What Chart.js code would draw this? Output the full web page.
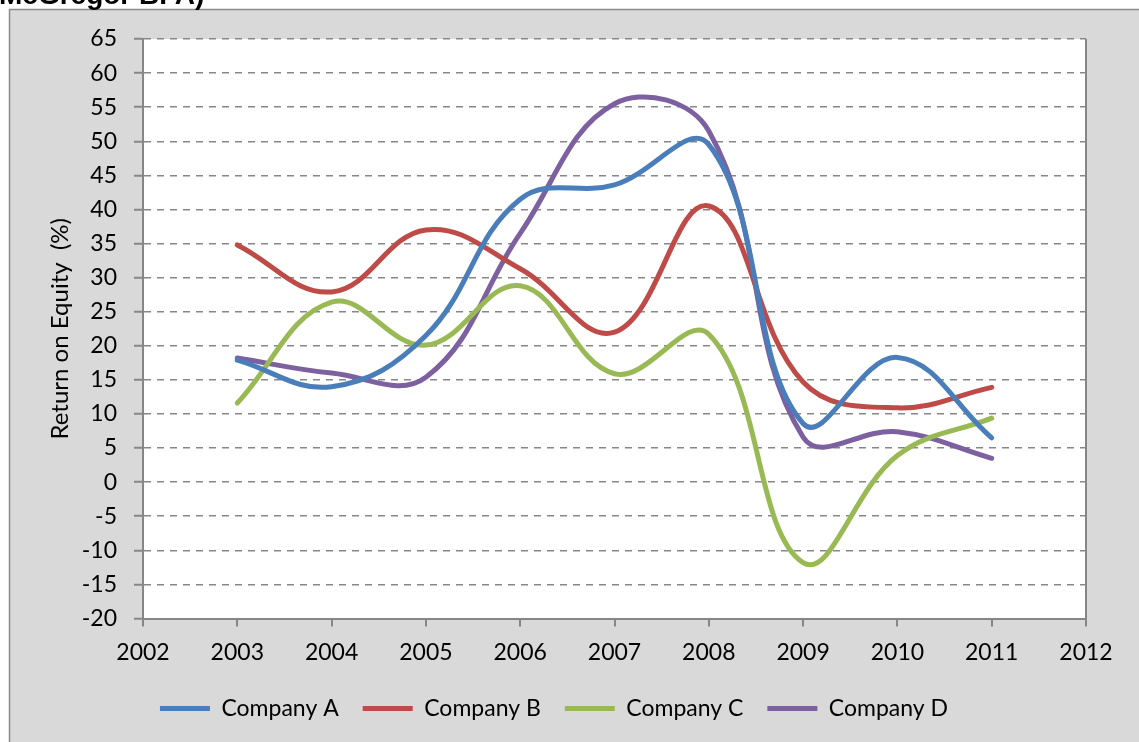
<!DOCTYPE html>
<html>
<head>
<meta charset="utf-8">
<script src="https://cdn.jsdelivr.net/npm/chart.js@4.4.1/dist/chart.umd.min.js"></script>
<style>
  html, body { margin: 0; padding: 0; background: #ffffff; }
  #c { display: block; }
</style>
</head>
<body>
<canvas id="c" width="1139" height="742"></canvas>
<script>
const years = [2003, 2004, 2005, 2006, 2007, 2008, 2009, 2010, 2011];
const companyA = [17.9, 14.0, 21.5, 41.5, 43.6, 49.5, 8.6, 18.3, 6.5];
const companyB = [34.8, 27.9, 37.0, 31.3, 22.0, 40.5, 14.7, 10.9, 13.9];
const companyC = [11.6, 26.4, 20.1, 28.8, 15.9, 21.7, -11.8, 3.9, 9.4];
const companyD = [18.2, 16.0, 15.4, 36.5, 55.5, 51.5, 6.6, 7.4, 3.5];
const seriesNames = ['Company A', 'Company B', 'Company C', 'Company D'];
const seriesColors = ['#4a7ebb', '#be4b48', '#98b954', '#7d60a0'];
const yTitle = 'Return on Equity  (%)';
const headerText = 'McGregor BFA)';

const toPoints = arr => arr.map((v, i) => ({ x: years[i], y: v }));
const allSeries = [companyA, companyB, companyC, companyD];

const frame = {
  id: 'frame',
  afterLayout(chart) {
    if (chart.legend) { chart.legend.left += 6; chart.legend.right += 6; }
  },
  beforeDraw(chart) {
    const ctx = chart.ctx, a = chart.chartArea;
    ctx.save();
    ctx.fillStyle = '#ffffff';
    ctx.fillRect(0, 0, chart.width, chart.height);
    ctx.fillStyle = '#d9d9d9';
    ctx.fillRect(9.5, 9.5, chart.width, chart.height);
    ctx.strokeStyle = '#8c8c8c';
    ctx.lineWidth = 1.5;
    ctx.beginPath();
    ctx.moveTo(9.5, chart.height + 5);
    ctx.lineTo(9.5, 9.5);
    ctx.lineTo(chart.width + 5, 9.5);
    ctx.stroke();
    ctx.fillStyle = '#ffffff';
    ctx.fillRect(a.left, a.top, a.right - a.left, a.bottom - a.top);
    ctx.fillStyle = '#000000';
    ctx.font = 'bold 28px "Liberation Sans", Arial, sans-serif';
    ctx.textBaseline = 'alphabetic';
    ctx.textAlign = 'left';
    ctx.fillText(headerText, -1, 4);
    ctx.restore();
  },
  afterDraw(chart) {
    const ctx = chart.ctx, a = chart.chartArea;
    ctx.save();
    ctx.strokeStyle = '#868686';
    ctx.lineWidth = 2;
    ctx.beginPath();
    ctx.moveTo(a.right, a.top);
    ctx.lineTo(a.right, a.bottom);
    ctx.stroke();
    ctx.restore();
  }
};

Chart.defaults.font.family = 'Lato, "Open Sans", sans-serif';
Chart.defaults.font.size = 23;
Chart.defaults.color = '#000000';

new Chart(document.getElementById('c'), {
  type: 'line',
  data: {
    datasets: allSeries.map((s, i) => ({
      label: seriesNames[i],
      data: toPoints(s),
      borderColor: seriesColors[i],
      backgroundColor: seriesColors[i],
      borderWidth: 5,
      pointRadius: 0,
      pointHoverRadius: 0,
      tension: 0.4,
      fill: false,
      borderCapStyle: 'round',
      borderJoinStyle: 'round'
    }))
  },
  options: {
    responsive: false,
    animation: false,
    devicePixelRatio: 1,
    layout: { padding: { left: 10, top: 39, right: 53, bottom: 12 } },
    scales: {
      x: {
        type: 'linear',
        min: 2002,
        max: 2012,
        afterFit(s) { s.height = 54.5; },
        ticks: { stepSize: 1, padding: 12, maxRotation: 0, font: { family: 'Lato', size: 23 }, callback: v => String(v) },
        grid: { drawOnChartArea: false, drawTicks: true, tickLength: 8, color: '#868686', lineWidth: 2 },
        border: { display: true, color: '#868686', width: 2 }
      },
      y: {
        type: 'linear',
        min: -20,
        max: 65,
        afterFit(s) { s.width = 133; },
        ticks: { stepSize: 5, padding: 17, font: { family: 'Lato', size: 23 } },
        grid: { drawOnChartArea: true, drawTicks: true, tickLength: 9, color: '#878787', lineWidth: 1.5, tickWidth: 2 },
        border: { display: true, color: '#868686', width: 2, dash: [7, 6] },
        title: { display: true, text: yTitle, padding: { top: 36, bottom: 0 }, font: { family: 'Lato', size: 24 } }
      }
    },
    plugins: {
      legend: {
        position: 'bottom',
        labels: {
          usePointStyle: true,
          pointStyle: 'line',
          pointStyleWidth: 50,
          padding: 24,
          font: { family: 'Lato', size: 23 }
        }
      },
      tooltip: { enabled: false },
      title: { display: false }
    }
  },
  plugins: [frame]
});
</script>
</body>
</html>
